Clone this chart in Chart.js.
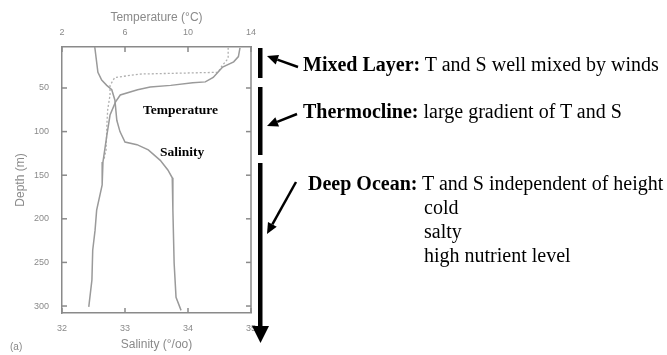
<!DOCTYPE html>
<html>
<head>
<meta charset="utf-8">
<script src="https://cdn.jsdelivr.net/npm/chart.js@4"></script>
<style>
html,body{margin:0;padding:0;background:#fff;}
#wrap{position:relative;width:667px;height:355px;overflow:hidden;}
#wrap canvas{position:absolute;left:0;top:0;}
.note{position:absolute;font-family:"Liberation Serif","Times New Roman",serif;font-size:20px;color:#000;white-space:nowrap;line-height:20px;}
.lbl{position:absolute;font-family:"Liberation Serif","Times New Roman",serif;font-weight:bold;font-size:13.5px;color:#000;white-space:nowrap;line-height:14px;}
.tag{position:absolute;font-family:"Liberation Sans",Arial,sans-serif;font-size:10px;color:#888;}
</style>
</head>
<body>
<div id="wrap">
  <canvas id="myChart" width="667" height="355"></canvas>
  <div class="lbl" style="left:143px;top:103px">Temperature</div>
  <div class="lbl" style="left:160px;top:145px">Salinity</div>
  <div class="note" style="left:303px;top:54px"><b>Mixed Layer:</b> T and S well mixed by winds</div>
  <div class="note" style="left:303px;top:101px"><b>Thermocline:</b> large gradient of T and S</div>
  <div class="note" style="left:308px;top:173px"><b>Deep Ocean:</b> T and S independent of height</div>
  <div class="note" style="left:424px;top:197px">cold</div>
  <div class="note" style="left:424px;top:221px">salty</div>
  <div class="note" style="left:424px;top:245px">high nutrient level</div>
  <div class="tag" style="left:10px;top:341px">(a)</div>
</div>
<script>
// temperature profile (top axis), depth in m
var tempDepth = [4, 14, 20, 26, 32, 38, 43, 44, 47, 49, 52, 58, 66, 81, 104, 135, 161, 190, 213, 236, 270, 301]
var tempVals  = [13.3, 13.2, 12.9, 12.2, 11.9, 11.6, 11.1, 10.3, 8.9, 7.6, 6.8, 5.7, 5.4, 5.05, 4.85, 4.6, 4.55, 4.2, 4.1, 3.95, 3.9, 3.7]
// salinity profile (bottom axis)
var salDepth = [3, 32, 41, 47, 52, 64, 87, 100, 112, 115, 121, 133, 144, 153, 190, 251, 290, 305]
var salVals  = [32.52, 32.57, 32.63, 32.71, 32.79, 32.84, 32.87, 32.92, 33.0, 33.19, 33.37, 33.56, 33.68, 33.75, 33.76, 33.78, 33.81, 33.89]
// dotted profile (temperature)
var dotDepth = [4, 16, 25, 32, 33, 34, 38, 47, 58, 75, 92, 121, 133]
var dotVals  = [12.55, 12.55, 12.15, 11.9, 9.5, 6.95, 5.35, 5.05, 5.05, 4.9, 4.85, 4.8, 4.65]

var depthTicks = [50, 100, 150, 200, 250, 300]

var gray = '#8a8a8a'
var lineGray = '#9a9a9a'
var tickFont = {family: 'Liberation Sans', size: 9}
var titleFont = {family: 'Liberation Sans', size: 12}

const pairs = (xs, ys) => xs.map((v, i) => ({x: v, y: ys[i]}))

const frame = {
  id: 'frame',
  afterDraw(chart) {
    const {ctx, chartArea: a, scales} = chart
    ctx.save()
    ctx.strokeStyle = gray
    ctx.lineWidth = 1.5
    const seg = (x1, y1, x2, y2) => { ctx.beginPath(); ctx.moveTo(x1, y1); ctx.lineTo(x2, y2); ctx.stroke() }
    seg(a.right, a.top, a.right, a.bottom)
    const L = 5
    scales.y.ticks.forEach(t => {
      const p = scales.y.getPixelForValue(t.value)
      seg(a.left, p, a.left + L, p)
      seg(a.right - L, p, a.right, p)
    })
    scales.x.ticks.forEach(t => {
      const p = scales.x.getPixelForValue(t.value)
      seg(p, a.bottom, p, a.bottom - L)
    })
    scales.x2.ticks.forEach(t => {
      const p = scales.x2.getPixelForValue(t.value)
      seg(p, a.top, p, a.top + L)
    })

    // layer bars and arrows
    ctx.fillStyle = '#000'
    ctx.strokeStyle = '#000'
    ctx.fillRect(258, 48, 4.5, 30)
    ctx.fillRect(258, 87, 4.5, 68)
    ctx.fillRect(258, 163, 4.5, 165)
    ctx.beginPath(); ctx.moveTo(252, 326); ctx.lineTo(269, 326); ctx.lineTo(260.5, 343); ctx.closePath(); ctx.fill()
    const arrow = (x1, y1, x2, y2) => {
      const ang = Math.atan2(y2 - y1, x2 - x1)
      const hl = 11, hw = 5
      const bx = x2 - hl * Math.cos(ang), by = y2 - hl * Math.sin(ang)
      ctx.lineWidth = 2.5
      seg(x1, y1, bx, by)
      ctx.beginPath()
      ctx.moveTo(x2, y2)
      ctx.lineTo(bx + hw * Math.sin(ang), by - hw * Math.cos(ang))
      ctx.lineTo(bx - hw * Math.sin(ang), by + hw * Math.cos(ang))
      ctx.closePath()
      ctx.fill()
    }
    arrow(298, 67, 267, 56)
    arrow(297, 114, 267, 126)
    arrow(296, 182, 267, 234)
    ctx.restore()
  }
}

const config = {
  type: 'scatter',
  data: {
    datasets: [
      {label: 'Temperature', data: pairs(tempVals, tempDepth), xAxisID: 'x2', yAxisID: 'y',
       showLine: true, borderColor: lineGray, borderWidth: 1.5, pointRadius: 0, tension: 0},
      {label: 'Temperature 2', data: pairs(dotVals, dotDepth), xAxisID: 'x2', yAxisID: 'y',
       showLine: true, borderColor: '#b0b0b0', borderWidth: 1.3, borderDash: [2, 2], pointRadius: 0},
      {label: 'Salinity', data: pairs(salVals, salDepth), xAxisID: 'x', yAxisID: 'y',
       showLine: true, borderColor: lineGray, borderWidth: 1.5, pointRadius: 0, tension: 0}
    ]
  },
  options: {
    responsive: false,
    animation: false,
    layout: {padding: {left: 0, top: 0, right: 416, bottom: 0}},
    plugins: {legend: {display: false}, tooltip: {enabled: false}},
    scales: {
      x: {
        type: 'linear', position: 'bottom', min: 32, max: 35,
        ticks: {stepSize: 1, color: gray, font: tickFont, padding: 10},
        grid: {display: false, drawTicks: false},
        border: {color: gray, width: 1.5},
        title: {display: true, text: 'Salinity (°/oo)', color: gray, font: titleFont, padding: {top: 0, bottom: 3}},
        afterFit: s => { s.height = 42 }
      },
      x2: {
        type: 'linear', position: 'top', min: 2, max: 14,
        ticks: {stepSize: 4, color: gray, font: tickFont, padding: 9},
        grid: {display: false, drawTicks: false},
        border: {color: gray, width: 1.5},
        title: {display: true, text: 'Temperature (°C)', color: gray, font: titleFont, padding: {top: 10, bottom: 0}},
        afterFit: s => { s.height = 47 }
      },
      y: {
        type: 'linear', reverse: true, min: 3, max: 308,
        afterBuildTicks: s => { s.ticks = depthTicks.map(v => ({value: v})) },
        ticks: {color: gray, font: tickFont, padding: 13},
        grid: {display: false, drawTicks: false},
        border: {color: gray, width: 1.5},
        title: {display: true, text: 'Depth (m)', color: gray, font: titleFont, padding: {top: 13, bottom: 0}},
        afterFit: s => { s.width = 62 }
      }
    }
  },
  plugins: [frame]
}

new Chart('myChart', config)
</script>
</body>
</html>
